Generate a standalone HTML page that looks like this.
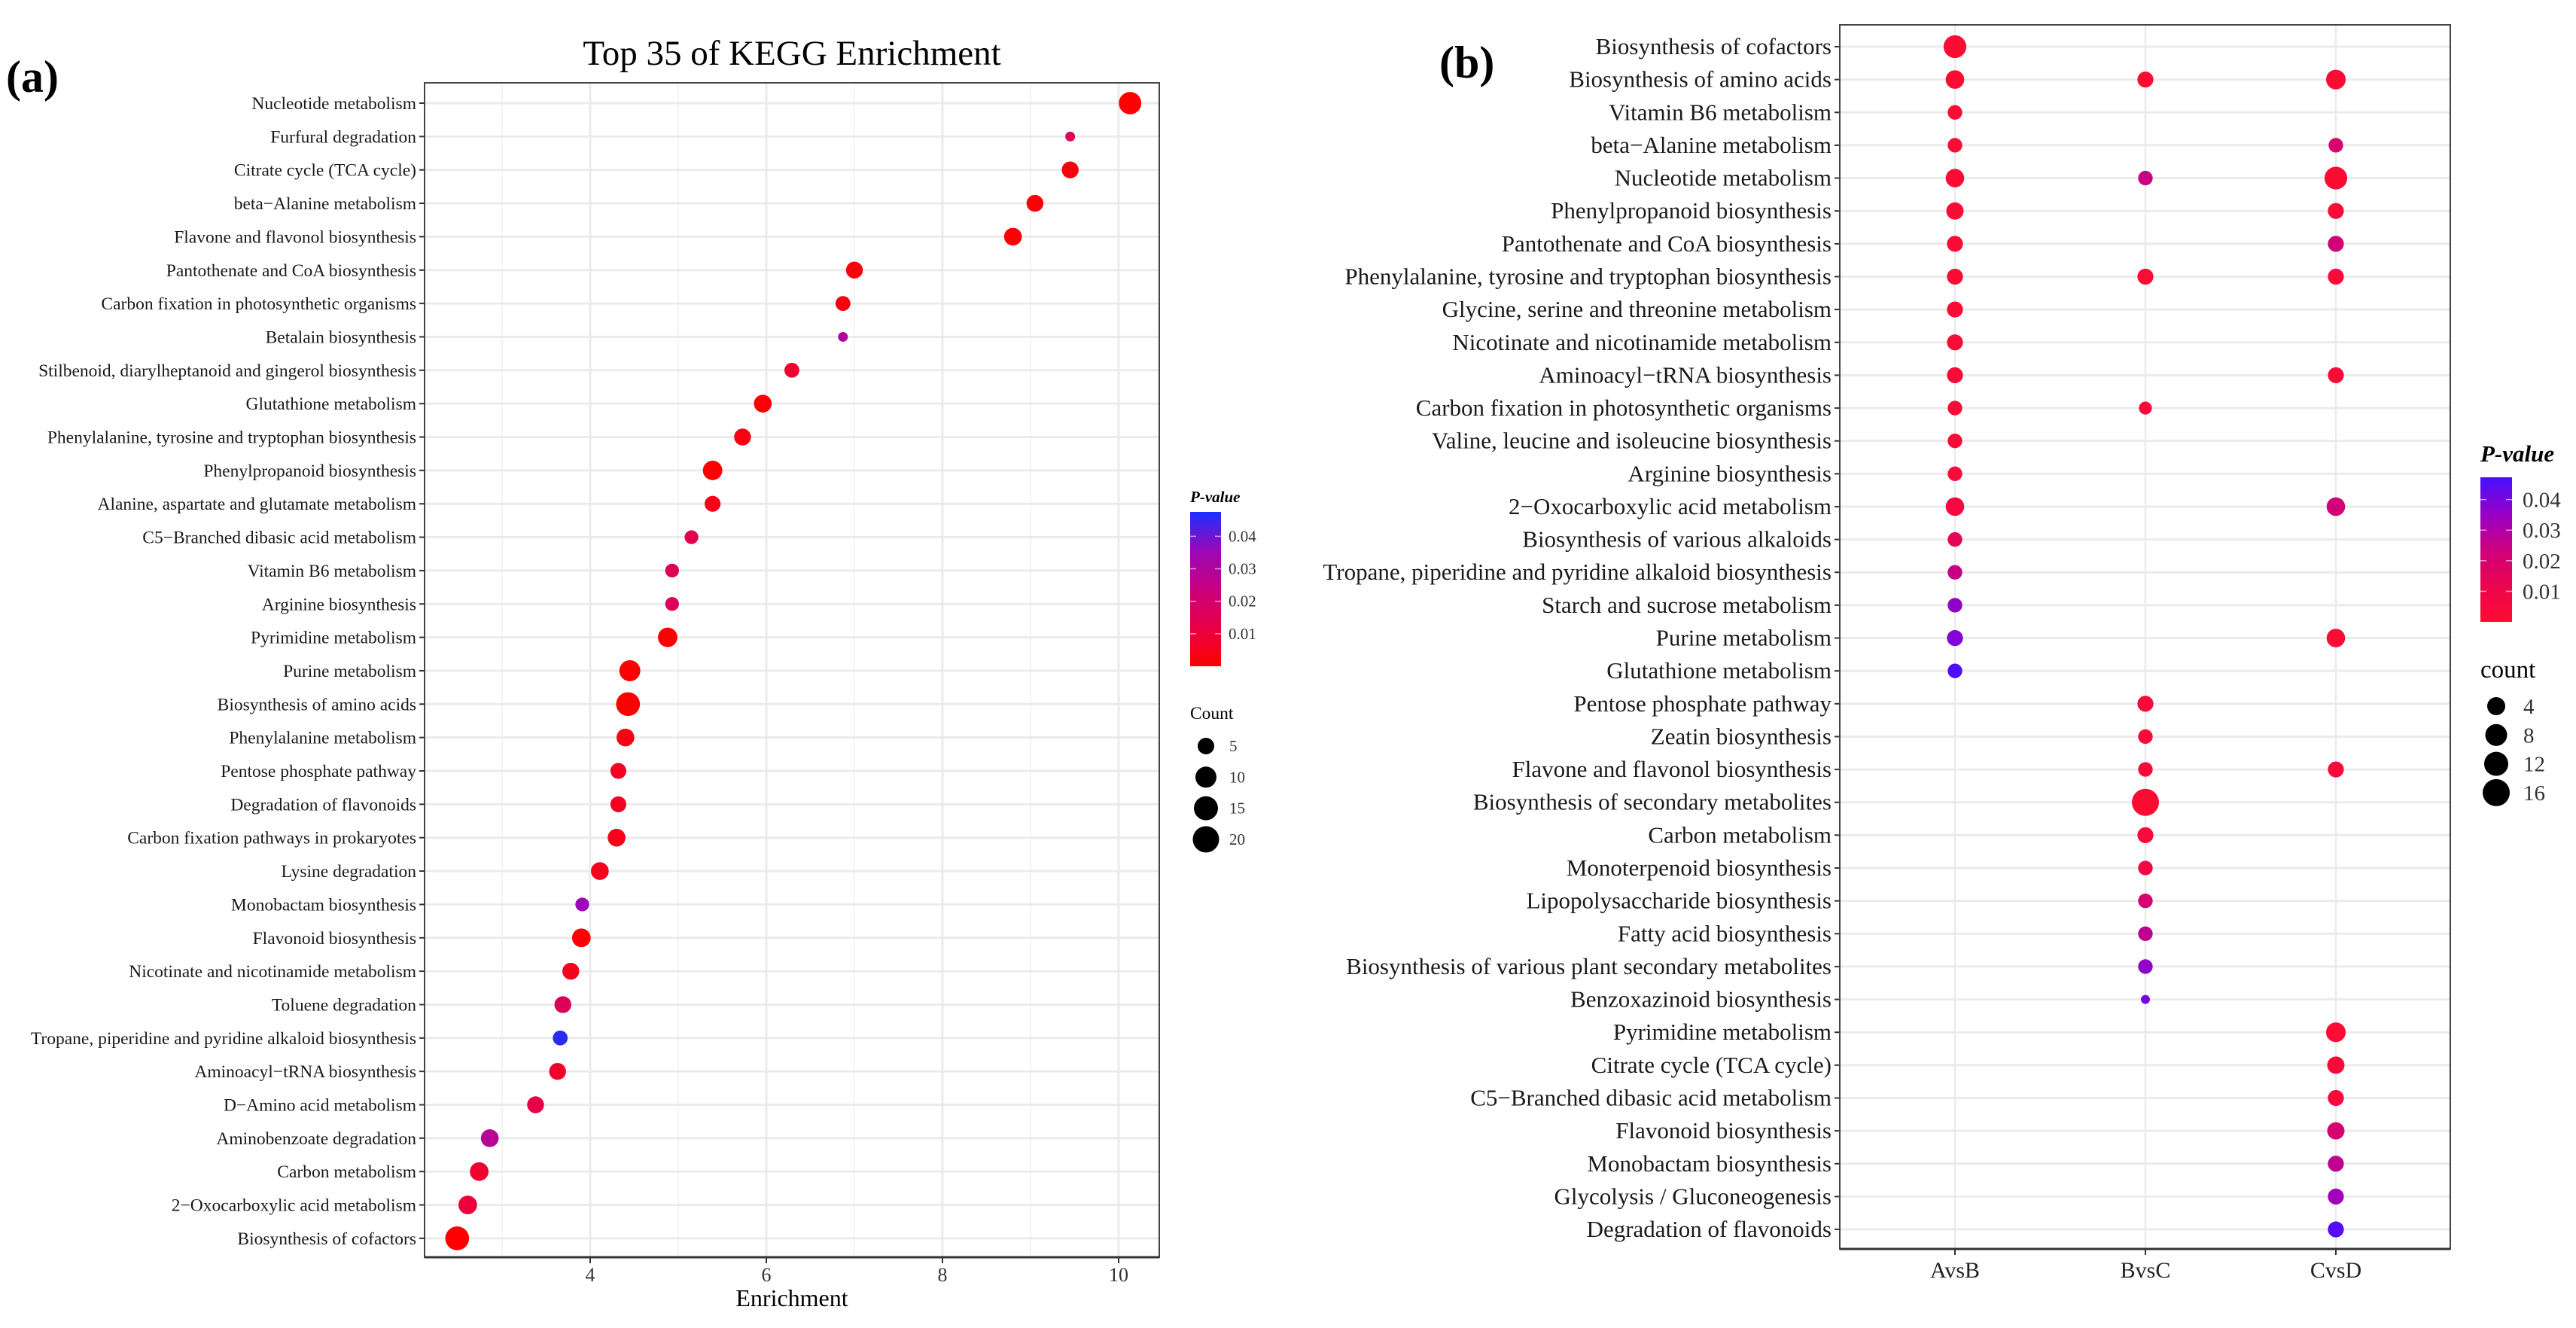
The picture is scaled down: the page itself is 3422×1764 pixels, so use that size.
<!DOCTYPE html>
<html><head><meta charset="utf-8">
<style>
html,body{margin:0;padding:0;background:#fff;}
svg{display:block;font-family:"Liberation Serif","Times New Roman",serif;}
</style></head>
<body>
<svg id="fig" width="3422" height="1764" viewBox="0 0 3422 1764" xmlns="http://www.w3.org/2000/svg">
<defs>
<linearGradient id="gradA" x1="0" y1="1" x2="0" y2="0">
<stop offset="0" stop-color="#ff0000"/><stop offset="0.25" stop-color="#e80046"/><stop offset="0.5" stop-color="#c8007e"/><stop offset="0.75" stop-color="#9a08b8"/><stop offset="1" stop-color="#1a30ff"/>
</linearGradient>
<linearGradient id="gradB" x1="0" y1="1" x2="0" y2="0">
<stop offset="0" stop-color="#ff0c30"/><stop offset="0.25" stop-color="#eb0550"/><stop offset="0.5" stop-color="#cd007d"/><stop offset="0.75" stop-color="#9600c8"/><stop offset="1" stop-color="#4610ff"/>
</linearGradient>
</defs>
<text x="8" y="122" font-size="60" font-weight="bold">(a)</text>
<text x="1052" y="86" font-size="47" text-anchor="middle">Top 35 of KEGG Enrichment</text>
<text x="1912" y="103" font-size="60" font-weight="bold">(b)</text>
<g id="pa"></g>
<g id="pb"></g>
</svg>
<script>
// ---------- Panel (a) data ----------
const aTerms = ["Nucleotide metabolism","Furfural degradation","Citrate cycle (TCA cycle)","beta\u2212Alanine metabolism","Flavone and flavonol biosynthesis","Pantothenate and CoA biosynthesis","Carbon fixation in photosynthetic organisms","Betalain biosynthesis","Stilbenoid, diarylheptanoid and gingerol biosynthesis","Glutathione metabolism","Phenylalanine, tyrosine and tryptophan biosynthesis","Phenylpropanoid biosynthesis","Alanine, aspartate and glutamate metabolism","C5\u2212Branched dibasic acid metabolism","Vitamin B6 metabolism","Arginine biosynthesis","Pyrimidine metabolism","Purine metabolism","Biosynthesis of amino acids","Phenylalanine metabolism","Pentose phosphate pathway","Degradation of flavonoids","Carbon fixation pathways in prokaryotes","Lysine degradation","Monobactam biosynthesis","Flavonoid biosynthesis","Nicotinate and nicotinamide metabolism","Toluene degradation","Tropane, piperidine and pyridine alkaloid biosynthesis","Aminoacyl\u2212tRNA biosynthesis","D\u2212Amino acid metabolism","Aminobenzoate degradation","Carbon metabolism","2\u2212Oxocarboxylic acid metabolism","Biosynthesis of cofactors"];
const aEnrich = [10.13,9.45,9.45,9.05,8.8,7.0,6.87,6.87,6.29,5.96,5.73,5.39,5.39,5.15,4.93,4.93,4.88,4.45,4.43,4.40,4.32,4.32,4.30,4.11,3.91,3.90,3.78,3.69,3.66,3.63,3.38,2.86,2.74,2.61,2.49];
const aCount = [14,1,7,7,8,7,5,1,5,8,7,10,6,4,4,4,10,12,16,8,6,6,8,8,4,9,7,7,5,7,7,8,9,9,16];
const aPval = [0.0005,0.015,0.002,0.001,0.001,0.002,0.002,0.03,0.008,0.001,0.003,0.0005,0.004,0.014,0.016,0.016,0.0005,0.0003,0.0002,0.003,0.006,0.006,0.004,0.005,0.035,0.001,0.005,0.016,0.046,0.007,0.012,0.028,0.008,0.01,0.0003];
const aXTicks = [4,6,8,10];
const aXMinor = [3,5,7,9];
const aPTicks = [0.01,0.02,0.03,0.04];
const aCountLegend = [5,10,15,20];

// ---------- Panel (b) data ----------
const bTerms = ["Biosynthesis of cofactors","Biosynthesis of amino acids","Vitamin B6 metabolism","beta\u2212Alanine metabolism","Nucleotide metabolism","Phenylpropanoid biosynthesis","Pantothenate and CoA biosynthesis","Phenylalanine, tyrosine and tryptophan biosynthesis","Glycine, serine and threonine metabolism","Nicotinate and nicotinamide metabolism","Aminoacyl\u2212tRNA biosynthesis","Carbon fixation in photosynthetic organisms","Valine, leucine and isoleucine biosynthesis","Arginine biosynthesis","2\u2212Oxocarboxylic acid metabolism","Biosynthesis of various alkaloids","Tropane, piperidine and pyridine alkaloid biosynthesis","Starch and sucrose metabolism","Purine metabolism","Glutathione metabolism","Pentose phosphate pathway","Zeatin biosynthesis","Flavone and flavonol biosynthesis","Biosynthesis of secondary metabolites","Carbon metabolism","Monoterpenoid biosynthesis","Lipopolysaccharide biosynthesis","Fatty acid biosynthesis","Biosynthesis of various plant secondary metabolites","Benzoxazinoid biosynthesis","Pyrimidine metabolism","Citrate cycle (TCA cycle)","C5\u2212Branched dibasic acid metabolism","Flavonoid biosynthesis","Monobactam biosynthesis","Glycolysis / Gluconeogenesis","Degradation of flavonoids"];
const bGroups = ["AvsB","BvsC","CvsD"];
const bRow = [0,1,1,1,2,3,3,4,4,4,5,5,6,6,7,7,7,8,9,10,10,11,11,12,13,14,14,15,16,17,18,18,19,20,21,22,22,23,24,25,26,27,28,29,30,31,32,33,34,35,36];
const bCol = [0,0,1,2,0,0,2,0,1,2,0,2,0,2,0,1,2,0,0,0,2,0,1,0,0,0,2,0,0,0,0,2,0,1,1,1,2,1,1,1,1,1,1,1,2,2,2,2,2,2,2];
const bCount = [11,7,5,8,4,4,4,7,4,11,6,5,5,5,5,5,5,5,5,5,5,4,3,4,4,7,7,4,4,4,5,7,4,5,4,4,5,16,5,4,4,4,4,1,8,6,5,6,5,5,5];
const bPval = [0.001,0.001,0.002,0.001,0.002,0.002,0.02,0.002,0.025,0.001,0.002,0.003,0.002,0.022,0.002,0.002,0.003,0.002,0.002,0.003,0.003,0.003,0.003,0.003,0.003,0.006,0.022,0.014,0.025,0.036,0.038,0.002,0.046,0.003,0.003,0.003,0.003,0.001,0.004,0.008,0.02,0.027,0.036,0.040,0.002,0.003,0.004,0.02,0.027,0.033,0.045];
const bPTicks = [0.01,0.02,0.03,0.04];
const bCountLegend = [4,8,12,16];

const NS = "http://www.w3.org/2000/svg";
function mk(parent, tag, attrs, text){
  const e = document.createElementNS(NS, tag);
  for (const k in attrs) e.setAttribute(k, attrs[k]);
  if (text !== undefined) e.textContent = text;
  parent.appendChild(e);
  return e;
}
function lerpColor(stops, t){
  t = Math.max(0, Math.min(1, t));
  const n = stops.length - 1, f = t * n, i = Math.min(n - 1, Math.floor(f)), u = f - i;
  const c = stops[i].map((v, k) => Math.round(v + (stops[i+1][k] - v) * u));
  return "rgb(" + c.join(",") + ")";
}
const stopsA = [[255,0,0],[232,0,70],[200,0,126],[154,8,184],[26,48,255]];
const stopsB = [[255,12,48],[235,5,80],[205,0,125],[150,0,200],[70,16,255]];

// ===== Panel A =====
const pa = document.getElementById("pa");
const aL = 564, aR = 1540, aT = 110, aB = 1670;
const ax = v => 784 + (v - 4) * 117;
const ay = i => 137 + i * 44.35;
const aDiam = c => Math.sqrt(113 + 55.6 * c);
const aPmax = 0.0475, aBarTop = 680, aBarBot = 885;
const aPy = p => aBarBot - p / aPmax * (aBarBot - aBarTop);

aXMinor.forEach(v => {
  const l = mk(pa, "line", {x1: ax(v), x2: ax(v), y1: aT, y2: aB, stroke: "#f0f0f0", "stroke-width": 1.5});
  
  
});
aXTicks.forEach(v => {
  const l = mk(pa, "line", {x1: ax(v), x2: ax(v), y1: aT, y2: aB, stroke: "#ebebeb", "stroke-width": 3});
  
  
});
aTerms.forEach((t, i) => {
  const l = mk(pa, "line", {x1: aL, x2: aR, y1: ay(i), y2: ay(i), stroke: "#ebebeb", "stroke-width": 3});
  
  
  const tk = mk(pa, "line", {x1: aL - 7, x2: aL, y1: ay(i), y2: ay(i), stroke: "#333", "stroke-width": 2});
  
  
  const lb = mk(pa, "text", {x: aL - 11, y: ay(i) + 8, "font-size": 23.5, "text-anchor": "end", fill: "#1a1a1a"}, t);
  
  
});
const aFrame = mk(pa, "rect", {x: aL, y: aT, width: aR - aL, height: aB - aT, fill: "none", stroke: "#444", "stroke-width": 2});


const aXAxis = mk(pa, "line", {x1: aL, x2: aR, y1: aB, y2: aB, stroke: "#333", "stroke-width": 3});


aXTicks.forEach(v => {
  const tk = mk(pa, "line", {x1: ax(v), x2: ax(v), y1: aB, y2: aB + 8, stroke: "#333", "stroke-width": 2});
  
  
  const lb = mk(pa, "text", {x: ax(v), y: aB + 32, "font-size": 26, "text-anchor": "middle", fill: "#333"}, String(v));
  
  
});
const aXTitle = mk(pa, "text", {x: 1052, y: 1735, "font-size": 32, "text-anchor": "middle"}, "Enrichment");


aEnrich.forEach((v, i) => {
  const c = mk(pa, "circle", {cx: ax(v), cy: ay(i), r: aDiam(aCount[i]) / 2, fill: lerpColor(stopsA, aPval[i] / aPmax)});
  
  
});
// legend A
const aLegT = mk(pa, "text", {x: 1581, y: 667, "font-size": 21, "font-style": "italic", "font-weight": "bold"}, "P-value");


const aBar = mk(pa, "rect", {x: 1581, y: aBarTop, width: 41, height: aBarBot - aBarTop, fill: "url(#gradA)"});


aPTicks.forEach(p => {
  const t1 = mk(pa, "line", {x1: 1581, x2: 1589, y1: aPy(p), y2: aPy(p), stroke: "#fff", "stroke-opacity": 0.6, "stroke-width": 1.5});
  
  
  const t2 = mk(pa, "line", {x1: 1614, x2: 1622, y1: aPy(p), y2: aPy(p), stroke: "#fff", "stroke-opacity": 0.6, "stroke-width": 1.5});
  
  
  const lb = mk(pa, "text", {x: 1632, y: aPy(p) + 7, "font-size": 21, fill: "#333"}, p.toFixed(2));
  
  
});
const aCT = mk(pa, "text", {x: 1581, y: 955, "font-size": 23.5}, "Count");


aCountLegend.forEach((c, k) => {
  const y = 991 + k * 41.3;
  const d = [22, 28, 32, 35][k];
  const ci = mk(pa, "circle", {cx: 1602, cy: y, r: d / 2, fill: "#000"});
  
  
  const lb = mk(pa, "text", {x: 1633, y: y + 7, "font-size": 21, fill: "#333"}, String(c));
  
  
});

// ===== Panel B =====
const pb = document.getElementById("pb");
const bL = 2444, bR = 3255, bT = 33, bB = 1659;
const bx = j => 2597 + j * 253;
const by = i => 62 + i * 43.64;
const bDiam = c => Math.sqrt(67 + 76.8 * c);
const bPmax = 0.0473, bBarTop = 634, bBarBot = 826;
const bPy = p => bBarBot - p / bPmax * (bBarBot - bBarTop);

bGroups.forEach((g, j) => {
  const l = mk(pb, "line", {x1: bx(j), x2: bx(j), y1: bT, y2: bB, stroke: "#ebebeb", "stroke-width": 2.5});
  
  
});
bTerms.forEach((t, i) => {
  const l = mk(pb, "line", {x1: bL, x2: bR, y1: by(i), y2: by(i), stroke: "#ebebeb", "stroke-width": 3});
  
  
  const tk = mk(pb, "line", {x1: bL - 7, x2: bL, y1: by(i), y2: by(i), stroke: "#333", "stroke-width": 2});
  
  
  const lb = mk(pb, "text", {x: bL - 11, y: by(i) + 10, "font-size": 31, "text-anchor": "end", fill: "#1a1a1a"}, t);
  
  
});
const bFrame = mk(pb, "rect", {x: bL, y: bT, width: bR - bL, height: bB - bT, fill: "none", stroke: "#444", "stroke-width": 2});


const bXAxis = mk(pb, "line", {x1: bL, x2: bR, y1: bB, y2: bB, stroke: "#333", "stroke-width": 3});


bGroups.forEach((g, j) => {
  const tk = mk(pb, "line", {x1: bx(j), x2: bx(j), y1: bB, y2: bB + 8, stroke: "#333", "stroke-width": 2});
  
  
  const lb = mk(pb, "text", {x: bx(j), y: bB + 38, "font-size": 30, "text-anchor": "middle", fill: "#222"}, g);
  
  
});
bRow.forEach((r, k) => {
  const c = mk(pb, "circle", {cx: bx(bCol[k]), cy: by(r), r: bDiam(bCount[k]) / 2, fill: lerpColor(stopsB, bPval[k] / bPmax)});
  
  
});
// legend B
const bLegT = mk(pb, "text", {x: 3295, y: 613, "font-size": 31, "font-style": "italic", "font-weight": "bold"}, "P-value");


const bBar = mk(pb, "rect", {x: 3295, y: bBarTop, width: 42, height: bBarBot - bBarTop, fill: "url(#gradB)"});


bPTicks.forEach(p => {
  const t1 = mk(pb, "line", {x1: 3295, x2: 3303, y1: bPy(p), y2: bPy(p), stroke: "#fff", "stroke-opacity": 0.6, "stroke-width": 1.5});
  
  
  const t2 = mk(pb, "line", {x1: 3329, x2: 3337, y1: bPy(p), y2: bPy(p), stroke: "#fff", "stroke-opacity": 0.6, "stroke-width": 1.5});
  
  
  const lb = mk(pb, "text", {x: 3351, y: bPy(p) + 10, "font-size": 29, fill: "#333"}, p.toFixed(2));
  
  
});
const bCT = mk(pb, "text", {x: 3295, y: 900, "font-size": 33}, "count");


bCountLegend.forEach((c, k) => {
  const y = 938 + k * 38.3;
  const d = [24, 29, 32, 36][k];
  const ci = mk(pb, "circle", {cx: 3316, cy: y, r: d / 2, fill: "#000"});
  
  
  const lb = mk(pb, "text", {x: 3352, y: y + 10, "font-size": 29, fill: "#333"}, String(c));
  
  
});
</script>
</body></html>
